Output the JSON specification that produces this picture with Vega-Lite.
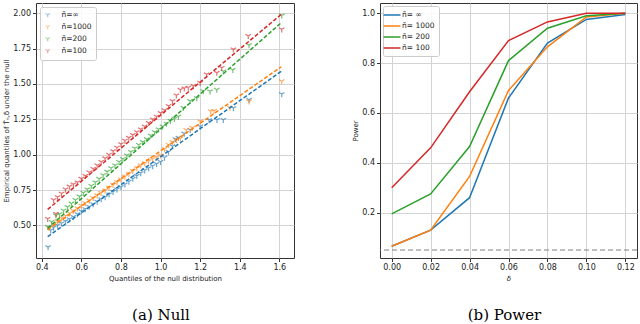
{
  "$schema": "https://vega.github.io/schema/vega-lite/v6.json",
  "padding": {"left": 2, "top": 2, "right": 0, "bottom": 0},
  "spacing": 56,
  "resolve": {"scale": {"color": "independent"}, "legend": {"color": "independent"}},
  "datasets": {
    "qq": [
      {"n":"ñ=∞","x":0.432,"y":0.346},{"n":"ñ=∞","x":0.445,"y":0.465},{"n":"ñ=∞","x":0.46,"y":0.485},{"n":"ñ=∞","x":0.48,"y":0.5},{"n":"ñ=∞","x":0.5,"y":0.515},{"n":"ñ=∞","x":0.52,"y":0.53},{"n":"ñ=∞","x":0.54,"y":0.545},{"n":"ñ=∞","x":0.56,"y":0.56},{"n":"ñ=∞","x":0.58,"y":0.58},{"n":"ñ=∞","x":0.6,"y":0.6},{"n":"ñ=∞","x":0.62,"y":0.615},{"n":"ñ=∞","x":0.64,"y":0.632},{"n":"ñ=∞","x":0.66,"y":0.65},{"n":"ñ=∞","x":0.68,"y":0.668},{"n":"ñ=∞","x":0.7,"y":0.685},{"n":"ñ=∞","x":0.72,"y":0.7},{"n":"ñ=∞","x":0.74,"y":0.72},{"n":"ñ=∞","x":0.76,"y":0.737},{"n":"ñ=∞","x":0.78,"y":0.755},{"n":"ñ=∞","x":0.8,"y":0.772},{"n":"ñ=∞","x":0.82,"y":0.79},{"n":"ñ=∞","x":0.84,"y":0.81},{"n":"ñ=∞","x":0.86,"y":0.83},{"n":"ñ=∞","x":0.88,"y":0.85},{"n":"ñ=∞","x":0.9,"y":0.87},{"n":"ñ=∞","x":0.92,"y":0.89},{"n":"ñ=∞","x":0.94,"y":0.905},{"n":"ñ=∞","x":0.96,"y":0.92},{"n":"ñ=∞","x":0.98,"y":0.935},{"n":"ñ=∞","x":1.0,"y":0.95},{"n":"ñ=∞","x":1.02,"y":0.98},{"n":"ñ=∞","x":1.04,"y":1.02},{"n":"ñ=∞","x":1.06,"y":1.06},{"n":"ñ=∞","x":1.075,"y":1.11},{"n":"ñ=∞","x":1.09,"y":1.12},{"n":"ñ=∞","x":1.12,"y":1.15},{"n":"ñ=∞","x":1.15,"y":1.175},{"n":"ñ=∞","x":1.2,"y":1.2},{"n":"ñ=∞","x":1.245,"y":1.245},{"n":"ñ=∞","x":1.285,"y":1.247},{"n":"ñ=∞","x":1.317,"y":1.247},{"n":"ñ=∞","x":1.368,"y":1.33},{"n":"ñ=∞","x":1.447,"y":1.389},{"n":"ñ=∞","x":1.612,"y":1.429},
      {"n":"ñ=1000","x":0.438,"y":0.483},{"n":"ñ=1000","x":0.46,"y":0.51},{"n":"ñ=1000","x":0.48,"y":0.53},{"n":"ñ=1000","x":0.5,"y":0.55},{"n":"ñ=1000","x":0.52,"y":0.568},{"n":"ñ=1000","x":0.54,"y":0.585},{"n":"ñ=1000","x":0.56,"y":0.603},{"n":"ñ=1000","x":0.58,"y":0.62},{"n":"ñ=1000","x":0.6,"y":0.64},{"n":"ñ=1000","x":0.62,"y":0.658},{"n":"ñ=1000","x":0.64,"y":0.676},{"n":"ñ=1000","x":0.66,"y":0.694},{"n":"ñ=1000","x":0.68,"y":0.712},{"n":"ñ=1000","x":0.7,"y":0.73},{"n":"ñ=1000","x":0.72,"y":0.748},{"n":"ñ=1000","x":0.74,"y":0.768},{"n":"ñ=1000","x":0.76,"y":0.787},{"n":"ñ=1000","x":0.78,"y":0.806},{"n":"ñ=1000","x":0.8,"y":0.826},{"n":"ñ=1000","x":0.82,"y":0.845},{"n":"ñ=1000","x":0.84,"y":0.865},{"n":"ñ=1000","x":0.86,"y":0.885},{"n":"ñ=1000","x":0.88,"y":0.905},{"n":"ñ=1000","x":0.9,"y":0.925},{"n":"ñ=1000","x":0.92,"y":0.94},{"n":"ñ=1000","x":0.94,"y":0.955},{"n":"ñ=1000","x":0.96,"y":0.97},{"n":"ñ=1000","x":0.98,"y":0.982},{"n":"ñ=1000","x":1.0,"y":0.995},{"n":"ñ=1000","x":1.02,"y":1.04},{"n":"ñ=1000","x":1.04,"y":1.07},{"n":"ñ=1000","x":1.06,"y":1.09},{"n":"ñ=1000","x":1.08,"y":1.105},{"n":"ñ=1000","x":1.1,"y":1.115},{"n":"ñ=1000","x":1.13,"y":1.175},{"n":"ñ=1000","x":1.16,"y":1.19},{"n":"ñ=1000","x":1.2,"y":1.236},{"n":"ñ=1000","x":1.253,"y":1.307},{"n":"ñ=1000","x":1.27,"y":1.31},{"n":"ñ=1000","x":1.351,"y":1.332},{"n":"ñ=1000","x":1.447,"y":1.377},{"n":"ñ=1000","x":1.612,"y":1.52},
      {"n":"ñ=200","x":0.431,"y":0.49},{"n":"ñ=200","x":0.45,"y":0.525},{"n":"ñ=200","x":0.472,"y":0.57},{"n":"ñ=200","x":0.49,"y":0.58},{"n":"ñ=200","x":0.51,"y":0.605},{"n":"ñ=200","x":0.53,"y":0.63},{"n":"ñ=200","x":0.55,"y":0.655},{"n":"ñ=200","x":0.57,"y":0.68},{"n":"ñ=200","x":0.59,"y":0.705},{"n":"ñ=200","x":0.61,"y":0.73},{"n":"ñ=200","x":0.63,"y":0.755},{"n":"ñ=200","x":0.65,"y":0.78},{"n":"ñ=200","x":0.67,"y":0.805},{"n":"ñ=200","x":0.69,"y":0.83},{"n":"ñ=200","x":0.71,"y":0.855},{"n":"ñ=200","x":0.73,"y":0.88},{"n":"ñ=200","x":0.75,"y":0.905},{"n":"ñ=200","x":0.77,"y":0.925},{"n":"ñ=200","x":0.79,"y":0.95},{"n":"ñ=200","x":0.81,"y":0.97},{"n":"ñ=200","x":0.83,"y":0.995},{"n":"ñ=200","x":0.85,"y":1.02},{"n":"ñ=200","x":0.87,"y":1.045},{"n":"ñ=200","x":0.89,"y":1.07},{"n":"ñ=200","x":0.91,"y":1.09},{"n":"ñ=200","x":0.93,"y":1.11},{"n":"ñ=200","x":0.95,"y":1.135},{"n":"ñ=200","x":0.97,"y":1.16},{"n":"ñ=200","x":0.99,"y":1.18},{"n":"ñ=200","x":1.01,"y":1.2},{"n":"ñ=200","x":1.03,"y":1.22},{"n":"ñ=200","x":1.05,"y":1.24},{"n":"ñ=200","x":1.07,"y":1.255},{"n":"ñ=200","x":1.09,"y":1.27},{"n":"ñ=200","x":1.115,"y":1.332},{"n":"ñ=200","x":1.149,"y":1.38},{"n":"ñ=200","x":1.183,"y":1.4},{"n":"ñ=200","x":1.216,"y":1.45},{"n":"ñ=200","x":1.25,"y":1.448},{"n":"ñ=200","x":1.284,"y":1.46},{"n":"ñ=200","x":1.317,"y":1.59},{"n":"ñ=200","x":1.365,"y":1.6},{"n":"ñ=200","x":1.447,"y":1.775},{"n":"ñ=200","x":1.612,"y":1.985},
      {"n":"ñ=100","x":0.43,"y":0.546},{"n":"ñ=100","x":0.472,"y":0.582},{"n":"ñ=100","x":0.46,"y":0.68},{"n":"ñ=100","x":0.48,"y":0.7},{"n":"ñ=100","x":0.5,"y":0.725},{"n":"ñ=100","x":0.52,"y":0.755},{"n":"ñ=100","x":0.54,"y":0.775},{"n":"ñ=100","x":0.56,"y":0.79},{"n":"ñ=100","x":0.58,"y":0.805},{"n":"ñ=100","x":0.6,"y":0.83},{"n":"ñ=100","x":0.62,"y":0.85},{"n":"ñ=100","x":0.64,"y":0.875},{"n":"ñ=100","x":0.66,"y":0.9},{"n":"ñ=100","x":0.68,"y":0.925},{"n":"ñ=100","x":0.7,"y":0.95},{"n":"ñ=100","x":0.72,"y":0.975},{"n":"ñ=100","x":0.74,"y":1.0},{"n":"ñ=100","x":0.76,"y":1.025},{"n":"ñ=100","x":0.78,"y":1.05},{"n":"ñ=100","x":0.8,"y":1.075},{"n":"ñ=100","x":0.82,"y":1.1},{"n":"ñ=100","x":0.84,"y":1.12},{"n":"ñ=100","x":0.86,"y":1.14},{"n":"ñ=100","x":0.88,"y":1.16},{"n":"ñ=100","x":0.9,"y":1.18},{"n":"ñ=100","x":0.92,"y":1.2},{"n":"ñ=100","x":0.94,"y":1.225},{"n":"ñ=100","x":0.96,"y":1.25},{"n":"ñ=100","x":0.98,"y":1.27},{"n":"ñ=100","x":1.0,"y":1.295},{"n":"ñ=100","x":1.02,"y":1.315},{"n":"ñ=100","x":1.04,"y":1.345},{"n":"ñ=100","x":1.06,"y":1.38},{"n":"ñ=100","x":1.08,"y":1.42},{"n":"ñ=100","x":1.1,"y":1.46},{"n":"ñ=100","x":1.12,"y":1.47},{"n":"ñ=100","x":1.14,"y":1.475},{"n":"ñ=100","x":1.166,"y":1.486},{"n":"ñ=100","x":1.2,"y":1.509},{"n":"ñ=100","x":1.233,"y":1.569},{"n":"ñ=100","x":1.284,"y":1.58},{"n":"ñ=100","x":1.309,"y":1.615},{"n":"ñ=100","x":1.368,"y":1.745},{"n":"ñ=100","x":1.443,"y":1.84},{"n":"ñ=100","x":1.612,"y":1.887}
    ],
    "fit": [
      {"n":"ñ=∞","x":0.43,"y":0.42},{"n":"ñ=∞","x":1.61,"y":1.59},
      {"n":"ñ=1000","x":0.43,"y":0.47},{"n":"ñ=1000","x":1.61,"y":1.622},
      {"n":"ñ=200","x":0.43,"y":0.479},{"n":"ñ=200","x":1.61,"y":1.934},
      {"n":"ñ=100","x":0.43,"y":0.613},{"n":"ñ=100","x":1.61,"y":1.993}
    ],
    "power": [
      {"n":"ñ= ∞","d":0.0,"p":0.065},{"n":"ñ= ∞","d":0.02,"p":0.13},{"n":"ñ= ∞","d":0.04,"p":0.26},{"n":"ñ= ∞","d":0.06,"p":0.66},{"n":"ñ= ∞","d":0.08,"p":0.88},{"n":"ñ= ∞","d":0.1,"p":0.975},{"n":"ñ= ∞","d":0.12,"p":0.995},
      {"n":"ñ= 1000","d":0.0,"p":0.065},{"n":"ñ= 1000","d":0.02,"p":0.13},{"n":"ñ= 1000","d":0.04,"p":0.345},{"n":"ñ= 1000","d":0.06,"p":0.69},{"n":"ñ= 1000","d":0.08,"p":0.865},{"n":"ñ= 1000","d":0.1,"p":0.985},{"n":"ñ= 1000","d":0.12,"p":1.0},
      {"n":"ñ= 200","d":0.0,"p":0.195},{"n":"ñ= 200","d":0.02,"p":0.275},{"n":"ñ= 200","d":0.04,"p":0.465},{"n":"ñ= 200","d":0.06,"p":0.81},{"n":"ñ= 200","d":0.08,"p":0.94},{"n":"ñ= 200","d":0.1,"p":0.99},{"n":"ñ= 200","d":0.12,"p":1.0},
      {"n":"ñ= 100","d":0.0,"p":0.3},{"n":"ñ= 100","d":0.02,"p":0.46},{"n":"ñ= 100","d":0.04,"p":0.685},{"n":"ñ= 100","d":0.06,"p":0.89},{"n":"ñ= 100","d":0.08,"p":0.965},{"n":"ñ= 100","d":0.1,"p":1.0},{"n":"ñ= 100","d":0.12,"p":1.0}
    ],
    "alpha": [{"a": 0.05}]
  },
  "hconcat": [
    {
      "width": 258,
      "height": 255,
      "title": {"text": "(a) Null", "orient": "bottom", "frame": "group", "anchor": "middle", "dx": -4, "offset": 26, "font": "DejaVu Serif", "fontSize": 15, "fontWeight": "normal", "color": "#000"},
      "layer": [
        {
          "data": {"name": "qq"},
          "mark": {"type": "point", "shape": "M0,0L0,1M0,0L-0.866,-0.5M0,0L0.866,-0.5", "filled": false, "size": 40, "opacity": 0.65, "strokeWidth": 1.2},
          "encoding": {
            "x": {"field": "x", "type": "quantitative", "scale": {"domain": [0.371, 1.674], "nice": false, "zero": false},
                  "axis": {"values": [0.4, 0.6, 0.8, 1.0, 1.2, 1.4, 1.6], "format": ".1f", "title": "Quantiles of the null distribution"}},
            "y": {"field": "y", "type": "quantitative", "scale": {"domain": [0.269, 2.073], "nice": false, "zero": false},
                  "axis": {"values": [0.5, 0.75, 1.0, 1.25, 1.5, 1.75, 2.0], "format": ".2f", "title": "Empirical quantiles of T̂ₙ,δ under the null"}},
            "color": {"field": "n", "type": "nominal",
                      "scale": {"domain": ["ñ=∞", "ñ=1000", "ñ=200", "ñ=100"], "range": ["#1f77b4", "#ff7f0e", "#2ca02c", "#d62728"]},
                      "legend": {"title": null, "orient": "top-left", "offset": 4, "symbolType": "M0,0L0,1M0,0L-0.866,-0.5M0,0L0.866,-0.5", "symbolSize": 25, "symbolOpacity": 0.5, "symbolStrokeWidth": 1, "symbolFillColor": "transparent", "labelOffset": 10}}
          }
        },
        {
          "data": {"name": "fit"},
          "mark": {"type": "line", "strokeDash": [4, 2], "strokeWidth": 1.5},
          "encoding": {
            "x": {"field": "x", "type": "quantitative"},
            "y": {"field": "y", "type": "quantitative"},
            "stroke": {"field": "n", "type": "nominal",
                       "scale": {"domain": ["ñ=∞", "ñ=1000", "ñ=200", "ñ=100"], "range": ["#1f77b4", "#ff7f0e", "#2ca02c", "#d62728"]},
                       "legend": null}
          }
        }
      ]
    },
    {
      "width": 257,
      "height": 255,
      "title": {"text": "(b) Power", "orient": "bottom", "frame": "group", "anchor": "middle", "dx": -4, "offset": 26, "font": "DejaVu Serif", "fontSize": 15, "fontWeight": "normal", "color": "#000"},
      "layer": [
        {
          "data": {"name": "alpha"},
          "mark": {"type": "rule", "strokeDash": [5, 3], "color": "#808080", "strokeWidth": 1},
          "encoding": {"y": {"field": "a", "type": "quantitative"}}
        },
        {
          "data": {"name": "power"},
          "mark": {"type": "line", "strokeWidth": 1.5},
          "encoding": {
            "x": {"field": "d", "type": "quantitative", "scale": {"domain": [-0.006, 0.126], "nice": false, "zero": false},
                  "axis": {"values": [0, 0.02, 0.04, 0.06, 0.08, 0.1, 0.12], "format": ".2f", "title": "δ", "titleFontStyle": "italic"}},
            "y": {"field": "p", "type": "quantitative", "scale": {"domain": [0.018, 1.041], "nice": false, "zero": false},
                  "axis": {"values": [0.2, 0.4, 0.6, 0.8, 1.0], "format": ".1f", "title": "Power"}},
            "color": {"field": "n", "type": "nominal",
                      "scale": {"domain": ["ñ= ∞", "ñ= 1000", "ñ= 200", "ñ= 100"], "range": ["#1f77b4", "#ff7f0e", "#2ca02c", "#d62728"]},
                      "legend": {"title": null, "orient": "top-left", "offset": 3, "symbolType": "M-2,0L2,0", "symbolSize": 72, "symbolStrokeWidth": 1.5, "labelOffset": 5}}
          }
        }
      ]
    }
  ],
  "config": {
    "view": {"stroke": "#333", "strokeWidth": 1},
    "axis": {"grid": true, "gridColor": "#d3d3d3", "gridWidth": 1, "domain": false, "tickColor": "#333", "tickSize": 3.5,
             "labelFont": "DejaVu Sans", "labelFontSize": 8, "labelColor": "#222", "labelPadding": 2,
             "titleFont": "DejaVu Sans", "titleFontSize": 7, "titleFontWeight": "normal", "titleColor": "#222", "titlePadding": 3},
    "legend": {"labelFont": "DejaVu Sans", "labelFontSize": 7.5, "labelColor": "#222", "padding": 4, "rowPadding": 2,
               "fillColor": "rgba(255,255,255,0.85)", "strokeColor": "#cccccc", "cornerRadius": 2}
  }
}
